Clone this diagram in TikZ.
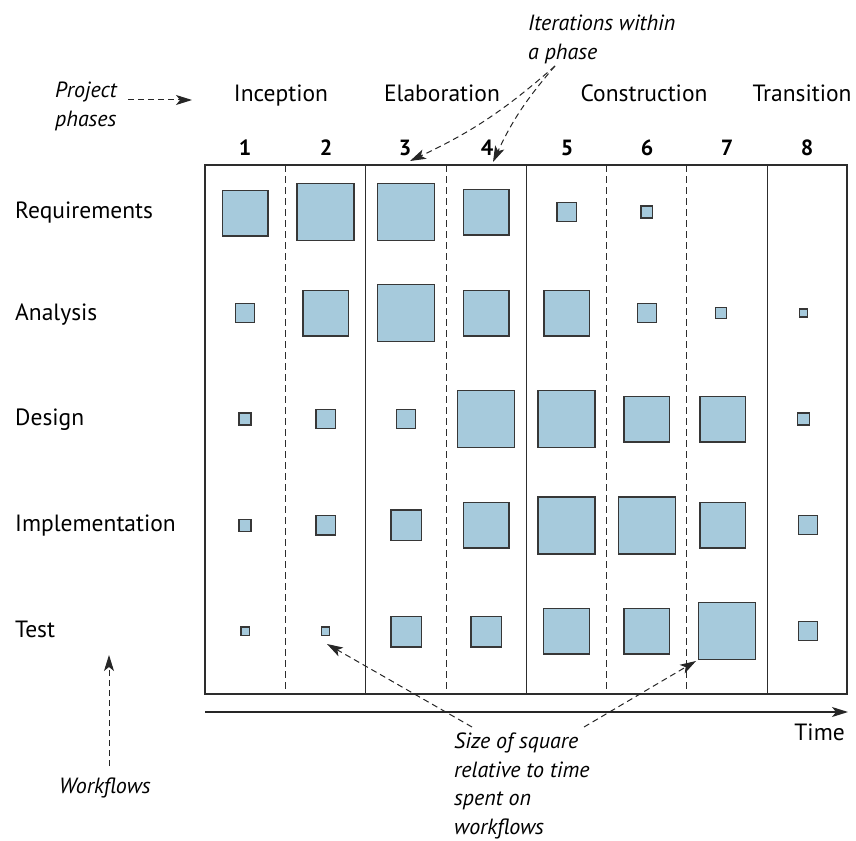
\documentclass[tikz,border=0pt]{standalone}
\usepackage{fontspec}
\setmainfont{PT Sans}
\usetikzlibrary{arrows.meta}
\definecolor{sqfill}{RGB}{166,202,220}
\definecolor{sqline}{RGB}{55,55,55}
\definecolor{gridline}{RGB}{45,45,45}
\begin{document}
\begin{tikzpicture}[x=1pt,y=-1pt,
 lbl/.style={font=\fontsize{23.5}{23.5}\selectfont, inner sep=0pt},
 ital/.style={font=\fontsize{22}{29}\selectfont\itshape, inner sep=0pt, align=left},
 itals/.style={font=\fontsize{22}{28.5}\selectfont\itshape, inner sep=0pt, align=left},
 num/.style={font=\fontsize{22}{22}\selectfont\bfseries, inner sep=0pt, anchor=base},
 sq/.style={draw=sqline, fill=sqfill, line width=1.5pt, inner sep=0pt, minimum size=#1pt},
 gridsolid/.style={draw=gridline, line width=1.2pt},
 griddash/.style={draw=gridline, line width=1.2pt, dash pattern=on 7pt off 4pt},
 note/.style={draw=black!85, dash pattern=on 6pt off 4pt, line width=1pt, -{Stealth[length=16pt,width=10pt,inset=4pt]}}
]
\useasboundingbox (0,0) rectangle (856,840);

% grid
\draw[gridsolid] (205,165) rectangle (847,694);
\foreach \x in {365.7,526.7,767.3} \draw[gridsolid] (\x,165) -- (\x,694);
\foreach \x in {285.7,446.6,606.7,686.7} \draw[griddash] (\x,165) -- (\x,694);

% row labels
\node[lbl, anchor=base west] (req) at (15,218) {Requirements};
\node[lbl, anchor=base west] (ana) at (15,320) {Analysis};
\node[lbl, anchor=base west] (des) at (15,425) {Design};
\node[lbl, anchor=base west] (imp) at (15,531) {Implementation};
\node[lbl, anchor=base west] (tst) at (15,637) {Test};

% phase labels
\node[lbl, anchor=base] (inc) at (281,102) {Inception};
\node[lbl, anchor=base] (ela) at (442,102) {Elaboration};
\node[lbl, anchor=base] (con) at (644,102) {Construction};
\node[lbl, anchor=base] (tra) at (802,102) {Transition};

% iteration numbers
\foreach \n/\x in {1/245,2/326,3/405,4/487,5/567,6/647,7/727,8/807}
  \node[num] (n\n) at (\x,155) {\n};

% squares
\foreach \c/\x/\y/\s in {1/245/213/45.5, 2/325.5/212/57, 3/405.8/212/57, 4/486/212/45.5, 5/566.7/212/19.3, 6/646.8/212/11.7}
  \node[sq=\s] (sqa\c) at (\x,\y) {};
\foreach \c/\x/\y/\s in {1/245/313/19.3, 2/325.5/313/45.5, 3/405.8/313/57, 4/486/313/45.5, 5/566.5/313/45.5, 6/646.8/313/19, 7/721/313/11, 8/803.3/313/8}
  \node[sq=\s] (sqb\c) at (\x,\y) {};
\foreach \c/\x/\y/\s in {1/245/419/12, 2/325.7/419/19.3, 3/405.8/419/19, 4/486.2/419/57, 5/566.7/419/57, 6/646.8/419.3/45.7, 7/722.8/419.3/45.7, 8/803.3/419/12}
  \node[sq=\s] (sqc\c) at (\x,\y) {};
\foreach \c/\x/\y/\s in {1/245/525.3/12, 2/325.7/525.3/19.3, 3/406/525.2/30.5, 4/486.2/525.3/45.7, 5/566.7/525.5/57, 6/646.8/525.5/57, 7/722.8/525.3/45.7, 8/807.8/525.2/19}
  \node[sq=\s] (sqd\c) at (\x,\y) {};
\foreach \c/\x/\y/\s in {1/245.2/631.3/8.3, 2/325.5/631.3/8.3, 3/406/631.5/30.5, 4/486.3/631.5/30.5, 5/566.5/631.3/45.7, 6/646.8/631.3/45.7, 7/727.2/631.2/57, 8/807.8/631.2/19}
  \node[sq=\s] (sqe\c) at (\x,\y) {};

% annotations (base anchor of a multi-line node = baseline of its last line)
\node[ital, anchor=base west] (proj) at (55,126.5) {Project\\phases};
\node[ital, anchor=base west] (iter) at (528,59.5) {Iterations within\\a phase};
\node[ital, anchor=base west] (wf) at (59,793) {Workflows};
\node[itals, anchor=base west] (size) at (454,834) {Size of square\\relative to time\\spent on\\workflows};
\node[lbl, anchor=base east] (time) at (845,740) {Time};

\coordinate (pa) at (128,100);
\coordinate (pb) at (192,100);
\draw[note] (pa) -- (pb);

\coordinate (ia) at (555,66);
\coordinate (i3) at (410,161);
\coordinate (i4) at (493,162);
\draw[note] (ia) to[bend left=8] (i3);
\draw[note] (ia) to[bend left=-8] (i4);

\coordinate (wa) at (109,766);
\coordinate (wb) at (109,655);
\draw[note] (wa) -- (wb);

\coordinate (sa) at (472,727);
\coordinate (s2) at (327,644);
\coordinate (sb) at (584,727);
\coordinate (s7) at (696,661);
\draw[note] (sa) -- (s2);
\draw[note] (sb) -- (s7);

\coordinate (ta) at (205,712);
\coordinate (tb) at (848,712);
\draw[draw=black!85, line width=1.3pt, -{Stealth[length=16pt,width=10pt,inset=4pt]}] (ta) -- (tb);
\end{tikzpicture}
\end{document}
